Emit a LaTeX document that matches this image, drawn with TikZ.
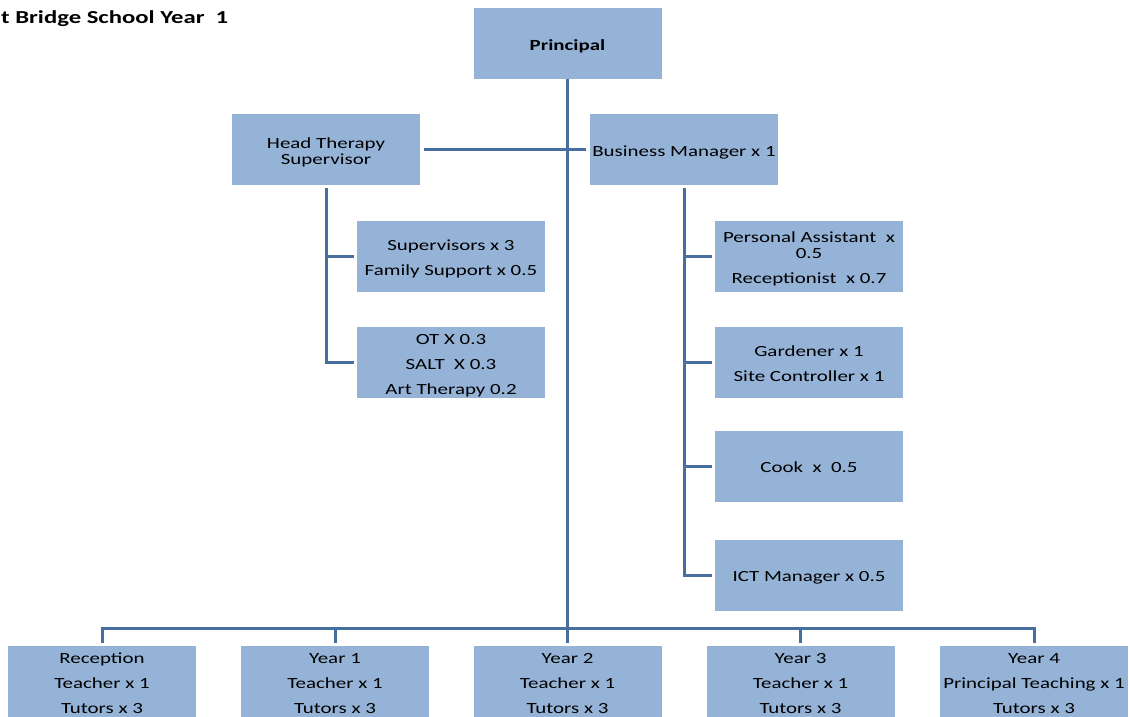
\documentclass[tikz,border=0pt]{standalone}
\usepackage{fontspec}
\setmainfont{Carlito}[FakeStretch=1.35]
\definecolor{boxblue}{HTML}{95B3D7}
\definecolor{linkblue}{HTML}{466E9E}
% centred lines, set a little below the middle of the box
\newcommand\boxtext[1]{\raisebox{-3.5pt}[\height][\depth]{%
  \renewcommand\arraystretch{1}\begin{tabular}{@{}c@{}}#1\end{tabular}}}
\begin{document}
\begin{tikzpicture}[x=1pt,y=-1pt,
  box/.style={fill=boxblue, minimum width=188pt, minimum height=71pt,
    inner sep=0pt, font=\fontsize{15.5}{16}\selectfont},
  link/.style={draw=linkblue, line width=3pt}]
\useasboundingbox (0,0) rectangle (1130,717);

% title
\node[anchor=base west, inner sep=0pt, font=\fontsize{18.3}{19}\selectfont\bfseries] (title) at (1,24) {t Bridge School Year\ \ 1};

% top level
\node[box] (principal) at (567.5,43.5) {\boxtext{\bfseries Principal}};
\node[box] (hts) at (326,149.5) {\boxtext{Head Therapy\\Supervisor}};
\node[box] (bm) at (684,149.5) {\boxtext{Business Manager x 1}};

% therapy team
\node[box] (sup) at (451,256.5) {\boxtext{Supervisors x 3\\[9pt]Family Support x 0.5}};
\node[box] (ot) at (451,362.5) {\boxtext{OT X 0.3\\[9pt]SALT\ \ X 0.3\\[9pt]Art Therapy 0.2}};

% business team
\node[box] (pa) at (809,256.5) {\boxtext{Personal Assistant\ \ x\\0.5\\[9pt]Receptionist\ \ x 0.7}};
\node[box] (gard) at (809,362.5) {\boxtext{Gardener x 1\\[9pt]Site Controller x 1}};
\node[box] (cook) at (809,466) {\boxtext{Cook\ \ x\ \ 0.5}};
\node[box] (ict) at (809,575) {\boxtext{ICT Manager x 0.5}};

% year groups
\node[box] (rec) at (102,681.5) {\boxtext{Reception\\[9pt]Teacher x 1\\[9pt]Tutors x 3}};
\node[box] (y1) at (335,681.5) {\boxtext{Year 1\\[9pt]Teacher x 1\\[9pt]Tutors x 3}};
\node[box] (y2) at (567.5,681.5) {\boxtext{Year 2\\[9pt]Teacher x 1\\[9pt]Tutors x 3}};
\node[box] (y3) at (800.5,681.5) {\boxtext{Year 3\\[9pt]Teacher x 1\\[9pt]Tutors x 3}};
\node[box] (y4) at (1034,681.5) {\boxtext{Year 4\\[9pt]Principal Teaching x 1\\[9pt]Tutors x 3}};

\coordinate (bus) at (568,628);

% connectors
\draw[link] (principal.south) -- ([yshift=3pt]y2.north);
\draw[link] ([xshift=4pt]hts.east) -- ([xshift=-4pt]bm.west);

\draw[link] ([yshift=-3pt]hts.south) |- ([xshift=-3pt]ot.west);
\draw[link] (hts.south |- sup.west) -- ([xshift=-3pt]sup.west);

\draw[link] ([yshift=-3pt]bm.south) |- ([xshift=-3pt]ict.west);
\draw[link] (bm.south |- pa.west) -- ([xshift=-3pt]pa.west);
\draw[link] (bm.south |- gard.west) -- ([xshift=-3pt]gard.west);
\draw[link] (bm.south |- cook.west) -- ([xshift=-3pt]cook.west);

\draw[link] ([yshift=3pt]rec.north) -- (rec.north |- bus) -- (y4.north |- bus) -- ([yshift=3pt]y4.north);
\draw[link] (y1.north |- bus) -- ([yshift=3pt]y1.north);
\draw[link] (y3.north |- bus) -- ([yshift=3pt]y3.north);
\end{tikzpicture}
\end{document}
